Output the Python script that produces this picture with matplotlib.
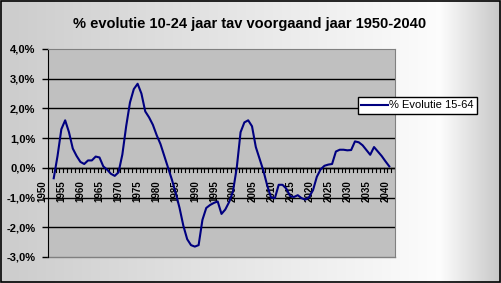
import numpy as np
import matplotlib
matplotlib.use('Agg')
import matplotlib.pyplot as plt
import matplotlib.transforms as mtransforms

plt.rcParams['font.family'] = ['Liberation Sans', 'DejaVu Sans']

# data: % change vs previous year, 1950-2040 (first and last year empty)
years = list(range(1950, 2041))
evolutie = [np.nan,
            -0.35, 0.40, 1.30, 1.60, 1.20, 0.65, 0.40, 0.20, 0.13, 0.25,
            0.25, 0.38, 0.35, 0.05, -0.06, -0.20, -0.27, -0.15, 0.45, 1.40,
            2.20, 2.65, 2.83, 2.50, 1.90, 1.70, 1.45, 1.10, 0.80, 0.40,
            0.00, -0.40, -0.85, -1.35, -1.95, -2.40, -2.60, -2.65, -2.60, -1.75,
            -1.35, -1.25, -1.18, -1.13, -1.55, -1.40, -1.15, -0.80, 0.00, 1.20,
            1.53, 1.60, 1.40, 0.70, 0.30, -0.10, -0.60, -1.00, -1.02, -0.57,
            -0.57, -0.70, -0.95, -0.98, -0.92, -1.02, -1.07, -0.98, -0.75, -0.30,
            -0.05, 0.07, 0.11, 0.13, 0.55, 0.61, 0.61, 0.59, 0.60, 0.89,
            0.86, 0.76, 0.60, 0.44, 0.70, 0.55, 0.40, 0.22, 0.05, np.nan]
y_ticks = [-3, -2, -1, 0, 1, 2, 3, 4]
y_labels = ['-3,0%', '-2,0%', '-1,0%', '0,0%', '1,0%', '2,0%', '3,0%', '4,0%']
title = '% evolutie 10-24 jaar tav voorgaand jaar 1950-2040'
series_name = '% Evolutie 15-64'

W, H = 501, 283
fig = plt.figure(figsize=(W / 100, H / 100), dpi=100)

# background gradient
bg = fig.add_axes([0, 0, 1, 1], zorder=-10)
xs = np.arange(W)
shade = np.interp(xs, [0, 440, 500], [0.80, 0.99, 0.78])
img = np.repeat(shade[None, :], 10, axis=0)
bg.imshow(np.dstack([img, img, img]), aspect='auto', extent=[0, 1, 0, 1])
bg.set_xlim(0, 1)
bg.set_ylim(0, 1)
bg.axis('off')
bg.add_patch(plt.Rectangle((0.001, 0.002), 0.997, 0.995, fill=False,
                           edgecolor='black', linewidth=1.2))

ax = fig.add_axes([48 / W, 1 - 257 / H, (395 - 48) / W, (257 - 49) / H])
ax.set_facecolor('#C0C0C0')

x = np.arange(len(years))
ax.plot(x, evolutie, color='#000080', linewidth=1.5, label=series_name, zorder=3)

ax.set_xlim(-0.5, len(years) - 0.5)
ax.set_ylim(-3, 4)
ax.set_yticks(y_ticks)
ax.set_yticklabels(y_labels, fontsize=8, fontweight='bold')
ax.tick_params(axis='y', length=4, width=1, color='black', pad=5)
for yv in y_ticks[1:-1]:
    ax.axhline(yv, color='black', linewidth=1, zorder=1)

for side in ['top', 'right']:
    ax.spines[side].set_color('#808080')
ax.spines['left'].set_color('black')
ax.spines['bottom'].set_visible(False)

# category axis at zero
ax.axhline(0, color='black', linewidth=1, zorder=2)
ax.plot([-0.5, len(years) - 0.5], [-3, -3], color='#808080', linewidth=1,
        clip_on=False, zorder=2)
for b in np.arange(-0.5, len(years), 1.0):
    ax.plot([b, b], [0, -0.13], color='black', linewidth=0.8, zorder=2)

lab_idx = [i for i, yr in enumerate(years) if yr % 5 == 0]
ax.set_xticks(lab_idx)
ax.set_xticklabels([str(years[i]) for i in lab_idx], rotation=90,
                   fontsize=7, fontweight='bold', va='top', ha='center')
ax.tick_params(axis='x', length=0, pad=0)
ax.xaxis.set_ticks_position('bottom')
offset = mtransforms.ScaledTranslation(-7.5 / 100, 0, fig.dpi_scale_trans)
for lbl in ax.get_xticklabels():
    lbl.set_transform(ax.get_xaxis_transform() + offset)
    lbl.set_y(0.37)

fig.text(250 / W, 1 - 24 / H, title, ha='center', va='center',
         fontsize=10.5, fontweight='bold')

leg = fig.legend(loc='center', bbox_to_anchor=(417.5 / W, 1 - 105.5 / H),
                 fontsize=8, frameon=True, fancybox=False, edgecolor='black',
                 handlelength=2.4, handletextpad=0.1, borderpad=0.3,
                 borderaxespad=0)
leg.get_frame().set_linewidth(1)
leg.get_frame().set_facecolor('white')
leg.get_frame().set_alpha(1)

fig.savefig('out.png', dpi=100)
